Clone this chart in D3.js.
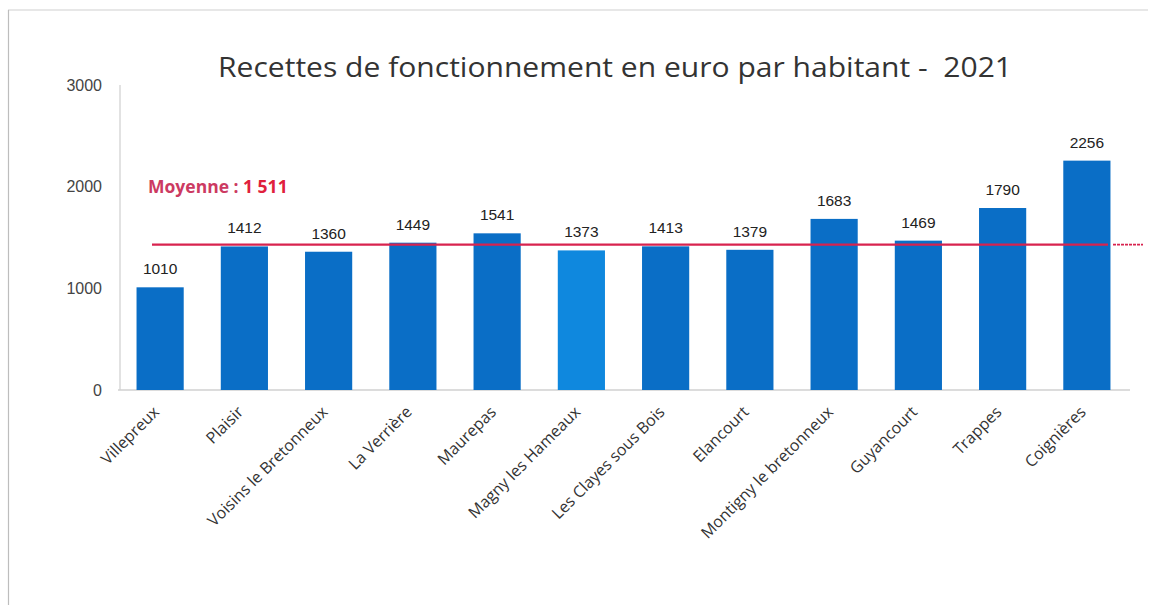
<!DOCTYPE html>
<html><head><meta charset="utf-8">
<script src="https://cdn.jsdelivr.net/npm/d3@7/dist/d3.min.js"></script>
<style>body{margin:0;background:#fff;}svg{display:block;} text{white-space:pre;}</style>
</head><body>
<svg id="c" width="1150" height="605"></svg>
<script>
const communes = ["Villepreux","Plaisir","Voisins le Bretonneux","La Verrière","Maurepas","Magny les Hameaux","Les Clayes sous Bois","Elancourt","Montigny le bretonneux","Guyancourt","Trappes","Coignières"];
const recettes = [1010,1412,1360,1449,1541,1373,1413,1379,1683,1469,1790,2256];
const yTicks = [0,1000,2000,3000];
const moyenneLabel = "1 511";
const moyenneLineValue = 1430; // position where the reference line is drawn
const title = "Recettes de fonctionnement en euro par habitant -  2021";

const svg = d3.select("#c");

// frame
svg.append("line").attr("x1",8).attr("x2",1148).attr("y1",10).attr("y2",10).attr("stroke","#cfcfcf").attr("stroke-width",1.2);
svg.append("line").attr("x1",8.5).attr("x2",8.5).attr("y1",10).attr("y2",605).attr("stroke","#bdbdbd").attr("stroke-width",1.2);

const x = d3.scaleBand().domain(communes).range([118,1129]).paddingInner(0.44).paddingOuter(0.22);
const y = d3.scaleLinear().domain([0,3000]).range([390,85]);

// title
svg.append("text").attr("x",615).attr("y",77).attr("text-anchor","middle")
  .attr("font-family","Open Sans, sans-serif").attr("font-size",27).attr("fill","#333")
  .attr("textLength",794).attr("lengthAdjust","spacingAndGlyphs").text(title);

// axes lines
svg.append("line").attr("x1",120).attr("x2",120).attr("y1",y(3000)).attr("y2",y(0)).attr("stroke","#d9d9d9").attr("stroke-width",1.5);
svg.append("line").attr("x1",118).attr("x2",1130).attr("y1",y(0)).attr("y2",y(0)).attr("stroke","#d0d0d0").attr("stroke-width",1.5);

// y ticks
const yAxis = d3.axisLeft(y).tickValues(yTicks).tickFormat(d3.format("d")).tickSize(0).tickPadding(18);
const gy = svg.append("g").attr("transform","translate(120,0)").call(yAxis);
gy.select(".domain").remove();
gy.selectAll("text").attr("font-family","Liberation Sans, sans-serif").attr("font-size",16).attr("fill","#444");

// bars
svg.append("g").selectAll("rect").data(recettes).join("rect")
  .attr("x",(d,i)=>x(communes[i])).attr("width",x.bandwidth())
  .attr("y",d=>y(d)).attr("height",d=>y(0)-y(d))
  .attr("fill",(d,i)=>communes[i]==="Magny les Hameaux"?"#0f88de":"#0a6ec6");

// mean line
svg.append("line").attr("x1",152).attr("x2",1108).attr("y1",y(moyenneLineValue)).attr("y2",y(moyenneLineValue))
  .attr("stroke","#d8234f").attr("stroke-width",2.2);
svg.append("line").attr("x1",1113).attr("x2",1143).attr("y1",y(moyenneLineValue)).attr("y2",y(moyenneLineValue))
  .attr("stroke","#d8234f").attr("stroke-width",1.6).attr("stroke-dasharray","3,1");

// value labels
svg.append("g").selectAll("text").data(recettes).join("text")
  .attr("x",(d,i)=>x(communes[i])+x.bandwidth()/2)
  .attr("y",d=>y(d)-13)
  .attr("text-anchor","middle").attr("font-family","Liberation Sans, sans-serif")
  .attr("font-size",15.5).attr("fill","#222").text(d=>d);

// Moyenne label
const ml = svg.append("text").attr("x",148).attr("y",193).attr("font-family","Open Sans, sans-serif").attr("font-size",17.5).attr("font-weight","bold");
ml.append("tspan").attr("fill","#cc3a62").text("Moyenne : ");
ml.append("tspan").attr("fill","#e0203c").text(moyenneLabel);

// x labels
svg.append("g").selectAll("text").data(communes).join("text")
  .attr("transform",d=>`translate(${x(d)+x.bandwidth()/2},${y(0)+23}) rotate(-45)`)
  .attr("text-anchor","end").attr("font-family","Open Sans, sans-serif")
  .attr("font-size",16).attr("fill","#333").text(d=>d);
</script>
</body></html>
